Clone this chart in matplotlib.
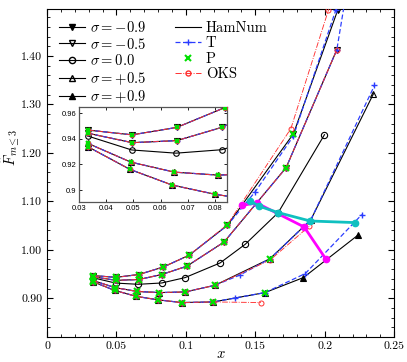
import matplotlib
matplotlib.use("Agg")
import matplotlib.pyplot as plt
from matplotlib.lines import Line2D
from matplotlib.ticker import MultipleLocator, FuncFormatter

plt.rcParams['font.family'] = 'serif'
plt.rcParams['font.serif'] = ['cmr10', 'DejaVu Serif']
plt.rcParams['mathtext.fontset'] = 'cm'
plt.rcParams['axes.formatter.use_mathtext'] = True

# ---- data ----
# sigma = -0.9
x_m09 = [0.0334, 0.0496, 0.0660, 0.0837, 0.1023, 0.1299, 0.1775, 0.2094, 0.2220]
y_m09 = [0.9468, 0.9431, 0.9489, 0.9644, 0.9887, 1.0505, 1.2396, 1.4950, 1.5980]
xT_m09 = [0.0334, 0.0496, 0.0660, 0.0837, 0.1023, 0.1299, 0.1500, 0.1775, 0.2080, 0.2200]
yT_m09 = [0.9468, 0.9431, 0.9489, 0.9644, 0.9887, 1.0505, 1.1200, 1.2350, 1.4950, 1.5970]
xO_m09 = [0.0334, 0.0496, 0.0660, 0.0837, 0.1023, 0.1299, 0.1756, 0.2027, 0.2130]
yO_m09 = [0.9468, 0.9431, 0.9489, 0.9644, 0.9887, 1.0520, 1.2500, 1.4950, 1.5900]

# sigma = -0.5
x_m05 = [0.0334, 0.0496, 0.0660, 0.0825, 0.1006, 0.1275, 0.1722, 0.2087]
y_m05 = [0.9443, 0.9370, 0.9386, 0.9489, 0.9660, 1.0160, 1.1695, 1.4128]
xT_m05 = [0.0334, 0.0496, 0.0660, 0.0825, 0.1006, 0.1275, 0.1722, 0.2087, 0.2165]
yT_m05 = [0.9443, 0.9370, 0.9386, 0.9489, 0.9660, 1.0160, 1.1695, 1.4128, 1.5480]

# sigma = 0.0 (HamNum only)
x_000 = [0.0332, 0.0494, 0.0657, 0.0826, 0.0994, 0.1246, 0.1427, 0.1665, 0.1998]
y_000 = [0.9422, 0.9313, 0.9288, 0.9315, 0.9426, 0.9728, 1.0113, 1.0767, 1.2375]

# sigma = +0.5
x_p05 = [0.0332, 0.0491, 0.0651, 0.0810, 0.0994, 0.1210, 0.1607, 0.1900, 0.2351]
y_p05 = [0.9365, 0.9218, 0.9140, 0.9117, 0.9130, 0.9268, 0.9818, 1.0620, 1.3220]
xT_p05 = [0.0332, 0.0491, 0.0651, 0.0810, 0.0994, 0.1210, 0.1390, 0.1607, 0.1900, 0.2358]
yT_p05 = [0.9365, 0.9218, 0.9140, 0.9117, 0.9130, 0.9268, 0.9480, 0.9818, 1.0620, 1.3390]
xO_p05 = [0.0332, 0.0491, 0.0651, 0.0810, 0.0994, 0.1210, 0.1607, 0.1888]
yO_p05 = [0.9365, 0.9218, 0.9140, 0.9117, 0.9130, 0.9268, 0.9790, 1.0485]

# sigma = +0.9
x_p09 = [0.0332, 0.0488, 0.0643, 0.0801, 0.0970, 0.1198, 0.1570, 0.1847, 0.2238]
y_p09 = [0.9339, 0.9161, 0.9039, 0.8967, 0.8911, 0.8924, 0.9117, 0.9427, 1.0300]
xT_p09 = [0.0332, 0.0488, 0.0643, 0.0801, 0.0970, 0.1198, 0.1354, 0.1570, 0.1860, 0.2267]
yT_p09 = [0.9339, 0.9161, 0.9039, 0.8967, 0.8911, 0.8924, 0.9005, 0.9117, 0.9510, 1.0726]
xO_p09 = [0.0332, 0.0488, 0.0643, 0.0801, 0.0970, 0.1198, 0.1540]
yO_p09 = [0.9339, 0.9161, 0.9039, 0.8967, 0.8911, 0.8924, 0.8911]

# extra loci
x_mag = [0.1403, 0.1511, 0.1852, 0.2010]
y_mag = [1.0918, 1.0965, 1.0470, 0.9800]
x_cyan = [0.1463, 0.1530, 0.1665, 0.1895, 0.2220]
y_cyan = [1.1006, 1.0897, 1.0767, 1.0594, 1.0561]

sig_labels = [r'$\sigma = -0.9$', r'$\sigma = -0.5$', r'$\sigma = 0.0$',
              r'$\sigma = +0.5$', r'$\sigma = +0.9$']

BLUE = '#2a3cff'
RED = '#ff3030'
GREEN = '#00e000'

curves = [
    # x, y, marker, filled, n_P, T, OKS
    (x_m09, y_m09, 'v', True, 7, (xT_m09, yT_m09), (xO_m09, yO_m09)),
    (x_m05, y_m05, 'v', False, 7, (xT_m05, yT_m05), (x_m05, y_m05)),
    (x_000, y_000, 'o', False, 0, None, None),
    (x_p05, y_p05, '^', False, 7, (xT_p05, yT_p05), (xO_p05, yO_p05)),
    (x_p09, y_p09, '^', True, 7, (xT_p09, yT_p09), (xO_p09, yO_p09)),
]


def draw(ax, ms, lw):
    for xs, ys, mk, filled, nP, T, O in curves:
        fc = 'black' if filled else 'none'
        n = len(xs) if ys[-1] < 1.5 else len(xs) - 1
        ax.plot(xs, ys, '-', color='black', lw=lw, marker=mk, ms=ms,
                mfc=fc, mec='black', mew=0.8, markevery=slice(0, n), zorder=3)
        if T is not None:
            nt = len(T[0]) if T[1][-1] < 1.5 else len(T[0]) - 1
            ax.plot(T[0], T[1], '--', color=BLUE, lw=lw * 1.1, dashes=(4, 2),
                    marker='+', ms=ms * 0.9, mew=1.0, markevery=slice(0, nt), zorder=4)
        if O is not None:
            no = len(O[0]) if O[1][-1] < 1.5 else len(O[0]) - 1
            ax.plot(O[0], O[1], '-.', color=RED, lw=lw * 0.8, marker='o', ms=ms * 0.8,
                    mfc='none', mec=RED, mew=0.7, markevery=slice(0, no), zorder=4)
        if nP:
            ax.plot(xs[:nP], ys[:nP], 'x', color=GREEN, ms=ms * 0.85, mew=1.5, zorder=5)


fig = plt.figure(figsize=(4.07, 3.62), dpi=100)
ax = fig.add_axes([0.1155, 0.069, 0.853, 0.905])
draw(ax, 4.5, 0.8)

ax.plot(x_mag, y_mag, '-', color='#ff00ff', lw=2.0, marker='o', ms=4.5, zorder=6)
ax.plot(x_cyan, y_cyan, '-', color='#10c0c0', lw=2.0, marker='o', ms=4.5, zorder=7)

ax.set_xlim(0, 0.25)
ax.set_ylim(0.82, 1.496)
ax.xaxis.set_major_locator(MultipleLocator(0.05))
ax.xaxis.set_minor_locator(MultipleLocator(0.01))
ax.yaxis.set_major_locator(MultipleLocator(0.10))
ax.yaxis.set_minor_locator(MultipleLocator(0.02))
ax.xaxis.set_major_formatter(FuncFormatter(lambda v, p: f"{v:g}"))
ax.yaxis.set_major_formatter(FuncFormatter(lambda v, p: f"{v:.2f}"))
ax.tick_params(which='both', direction='in', top=True, right=True, labelsize=8.5)
ax.tick_params(which='major', length=4)
ax.tick_params(which='minor', length=2)
ax.set_xlabel(r'$x$', fontsize=10.5)
ax.xaxis.set_label_coords(0.5, -0.032)
ax.set_ylabel(r'$\hat{F}_{m\leq3}$', fontsize=10.5)
ax.yaxis.set_label_coords(-0.071, 0.58)

# legend
handles = []
markers = [('v', 'black'), ('v', 'none'), ('o', 'none'), ('^', 'none'), ('^', 'black')]
for (mk, fc), lab in zip(markers, sig_labels):
    handles.append(Line2D([], [], color='black', lw=0.8, marker=mk, ms=4.5,
                          mfc=fc, mec='black', label=lab))
handles.append(Line2D([], [], color='black', lw=0.8, label='HamNum'))
handles.append(Line2D([], [], color=BLUE, lw=0.9, ls='--', dashes=(4, 2), marker='+',
                      ms=4, label='T'))
handles.append(Line2D([], [], color=GREEN, lw=0, marker='x', ms=4, mew=1.5, label='P'))
handles.append(Line2D([], [], color=RED, lw=0.7, ls='-.', marker='o', ms=3.6,
                      mfc='none', mec=RED, label='OKS'))
handles.insert(9, Line2D([], [], lw=0, label=' '))
leg = ax.legend(handles=handles, ncol=2, loc='upper left', bbox_to_anchor=(0.01, 0.995),
                frameon=False, fontsize=10.5, handlelength=1.8, handletextpad=0.3,
                labelspacing=0.12, columnspacing=2.0, borderaxespad=0.2)

# inset
axin = fig.add_axes([0.194, 0.442, 0.364, 0.262])
draw(axin, 4.0, 0.8)
axin.set_xlim(0.03, 0.0845)
axin.set_ylim(0.8907, 0.9647)
axin.xaxis.set_major_locator(MultipleLocator(0.01))
axin.yaxis.set_major_locator(MultipleLocator(0.02))
axin.xaxis.set_major_formatter(FuncFormatter(lambda v, p: f"{v:.2f}"))
axin.yaxis.set_major_formatter(FuncFormatter(lambda v, p: f"{v:g}"))
axin.tick_params(direction='in', top=True, right=True, length=2.5, width=0.6, pad=2)
for lab in axin.get_xticklabels() + axin.get_yticklabels():
    lab.set_fontfamily('Liberation Sans')
    lab.set_fontsize(5.5)
for s in axin.spines.values():
    s.set_color('#555555')
    s.set_linewidth(0.9)

fig.savefig('out.png', dpi=100)
